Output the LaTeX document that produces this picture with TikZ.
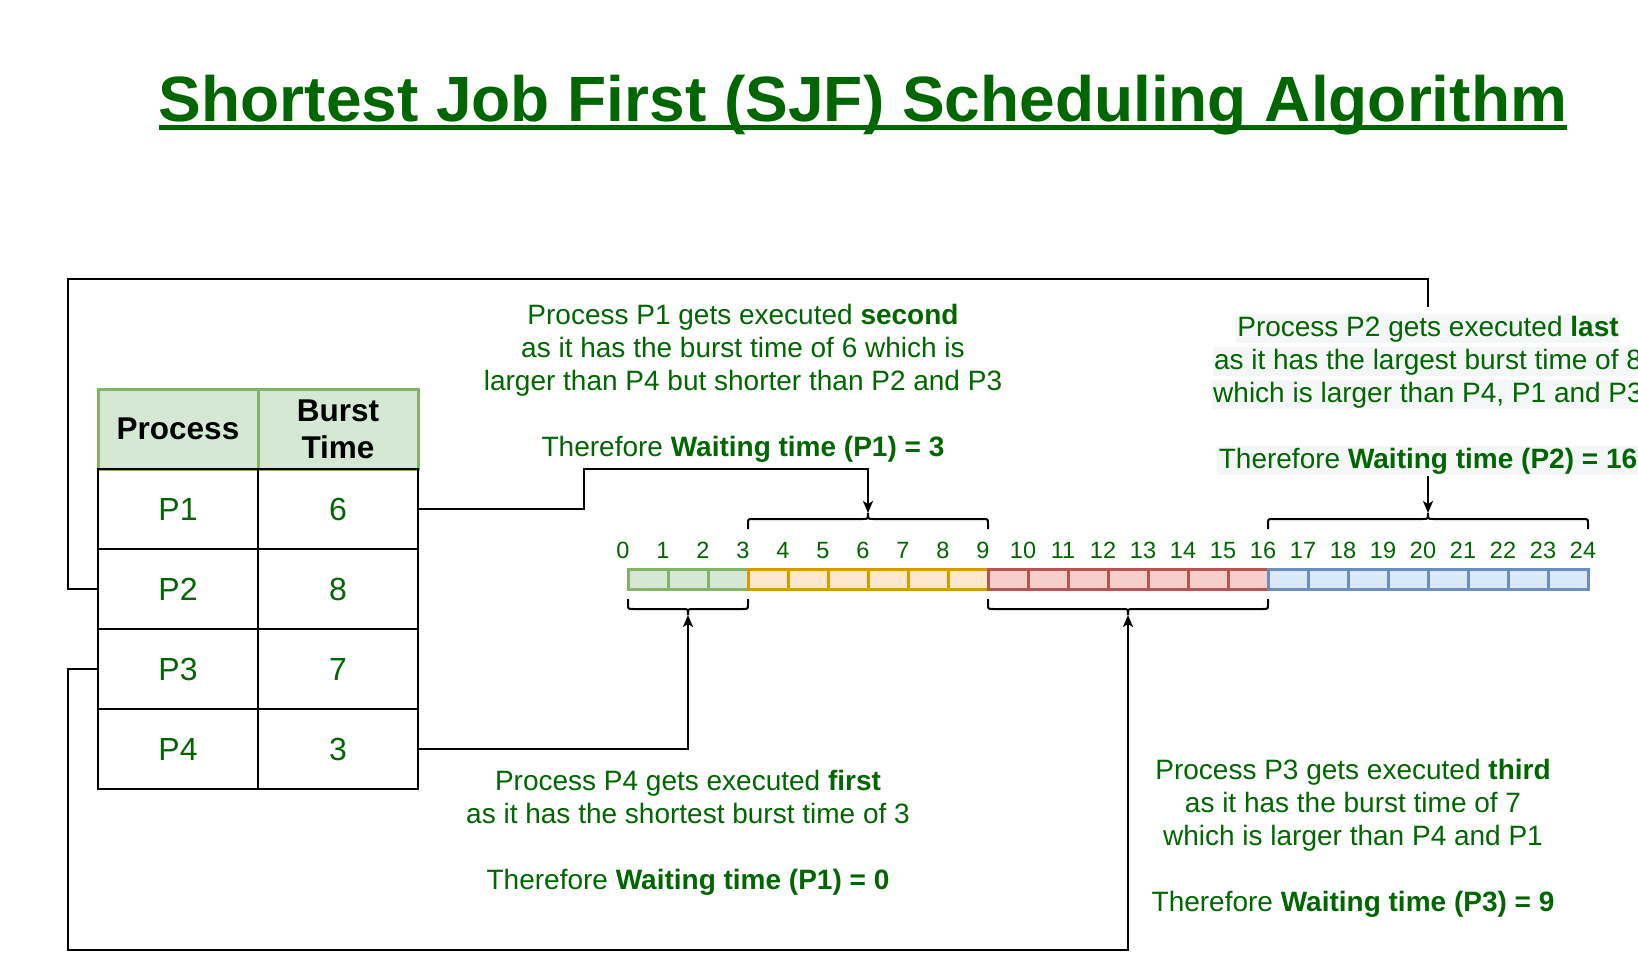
\documentclass[tikz,border=0pt]{standalone}
\usepackage{fontspec}
\setmainfont{Liberation Sans}
\usetikzlibrary{arrows.meta,calc}
\definecolor{tgreen}{HTML}{006600}
\definecolor{gfill}{HTML}{D5E8D4}\definecolor{gline}{HTML}{82B366}
\definecolor{ofill}{HTML}{FFE6CC}\definecolor{oline}{HTML}{D79B00}
\definecolor{rfill}{HTML}{F8CECC}\definecolor{rline}{HTML}{B85450}
\definecolor{bfill}{HTML}{DAE8FC}\definecolor{bline}{HTML}{6C8EBF}
\definecolor{hl}{HTML}{F5F6F7}
\setlength{\fboxsep}{1.5pt}
\newcommand\gbrace[4]{%
  \pgfmathsetmacro\bA{#3+#4*5}%
  \pgfmathsetmacro\bH{#3+#4*10}%
  \pgfmathsetmacro\bC{#3+#4*16}%
  \pgfmathsetmacro\bM{(#1+#2)/2}%
  \draw[brc] (#1,#3) -- (#1,\bA) .. controls (#1,\bH) .. (#1+5,\bH) -- (\bM-5,\bH)
    .. controls (\bM,\bH) .. (\bM,\bC) .. controls (\bM,\bH) .. (\bM+5,\bH)
    -- (#2-5,\bH) .. controls (#2,\bH) .. (#2,\bA) -- (#2,#3);
}
\begin{document}
\begin{tikzpicture}[x=1pt,y=-1pt,
  cell/.style={draw=black, line width=2pt, minimum width=160pt, minimum height=80pt, inner sep=0pt, text=tgreen, font=\fontsize{32}{37}\selectfont},
  hdr/.style={cell, fill=gfill, draw=gline, line width=3pt, text=black, font=\fontsize{31.5}{37}\selectfont\bfseries, align=center},
  tl/.style={minimum width=40pt, minimum height=20pt, inner sep=0pt, line width=3pt},
  num/.style={anchor=base, inner sep=0pt, text=tgreen, font=\fontsize{23.5}{28}\selectfont},
  txt/.style={anchor=base, inner sep=0pt, text=tgreen, font=\fontsize{28}{33}\selectfont},
  conn/.style={draw=black, line width=2pt, -{Stealth[length=12pt,width=10pt,inset=3pt]}},
  brc/.style={draw=black, line width=2pt},
]
\useasboundingbox (0,0) rectangle (1638,955);
\clip (0,0) rectangle (1638,955);
\fill[white] (0,0) rectangle (1638,955);

% title
\node[anchor=base, inner sep=0pt, text=tgreen, font=\fontsize{64}{76}\selectfont\bfseries] (title) at (863,122) {Shortest Job First (SJF) Scheduling Algorithm};
\fill[tgreen] ($(title.base west)+(0,3.5)$) rectangle ($(title.base east)+(0,8.5)$);

% table
\node[hdr] (hp) at (178,429) {Process};
\node[hdr] (hb) at (338,429) {Burst\\Time};
\node[cell] (p1n) at (178,509) {P1};
\node[cell] (p1v) at (338,509) {6};
\node[cell] (p2n) at (178,589) {P2};
\node[cell] (p2v) at (338,589) {8};
\node[cell] (p3n) at (178,669) {P3};
\node[cell] (p3v) at (338,669) {7};
\node[cell] (p4n) at (178,749) {P4};
\node[cell] (p4v) at (338,749) {3};

% timeline
\foreach \i in {0,1,2} {\node[tl, fill=gfill, draw=gline] (t\i) at (648+40*\i,579) {};}
\foreach \i in {3,...,8} {\node[tl, fill=ofill, draw=oline] (t\i) at (648+40*\i,579) {};}
\foreach \i in {9,...,15} {\node[tl, fill=rfill, draw=rline] (t\i) at (648+40*\i,579) {};}
\foreach \i in {16,...,23} {\node[tl, fill=bfill, draw=bline] (t\i) at (648+40*\i,579) {};}
\foreach \i in {0,...,24} {\node[num] (n\i) at (623+40*\i,558) {\i};}

% braces
\gbrace{748}{988}{529}{-1}
\gbrace{1268}{1588}{529}{-1}
\gbrace{628}{748}{599}{1}
\gbrace{988}{1268}{599}{1}
\coordinate (b1) at (868,513);
\coordinate (b2) at (1428,513);
\coordinate (b4) at (688,615);
\coordinate (b3) at (1128,615);

% connectors
\coordinate (k1) at (584,469);
\coordinate (k2) at (68,279);
\coordinate (k3) at (68,950);
\draw[conn] (p1v.east) -| (k1) -| (b1);
\draw[conn] (p2n.west) -| (k2) -| (b2);
\draw[conn] (p3n.west) -| (k3) -| (b3);
\draw[conn] (p4v.east) -| (b4);

% text P1
\node[txt] (a1) at (743,324) {Process P1 gets executed \textbf{second}};
\node[txt] (a2) at (743,357) {as it has the burst time of 6 which is};
\node[txt] (a3) at (743,390) {larger than P4 but shorter than P2 and P3};
\node[txt] (a4) at (743,456) {Therefore \textbf{Waiting time (P1) = 3}};

% text P2 (on an opaque block that hides the connector)
\fill[white] (1212,307) rectangle (1640,476);
\node[txt] (c1) at (1428,336) {\colorbox{hl}{Process P2 gets executed \textbf{last}}};
\node[txt] (c2) at (1428,369) {\colorbox{hl}{as it has the largest burst time of 8}};
\node[txt] (c3) at (1428,402) {\colorbox{hl}{which is larger than P4, P1 and P3}};
\node[txt] (c4) at (1428,468) {\colorbox{hl}{Therefore \textbf{Waiting time (P2) = 16}}};

% text P4
\node[txt] (d1) at (688,790) {Process P4 gets executed \textbf{first}};
\node[txt] (d2) at (688,823) {as it has the shortest burst time of 3};
\node[txt] (d3) at (688,889) {Therefore \textbf{Waiting time (P1) = 0}};

% text P3
\node[txt] (e1) at (1353,779) {Process P3 gets executed \textbf{third}};
\node[txt] (e2) at (1353,812) {as it has the burst time of 7};
\node[txt] (e3) at (1353,845) {which is larger than P4 and P1};
\node[txt] (e4) at (1353,911) {Therefore \textbf{Waiting time (P3) = 9}};
\end{tikzpicture}
\end{document}
